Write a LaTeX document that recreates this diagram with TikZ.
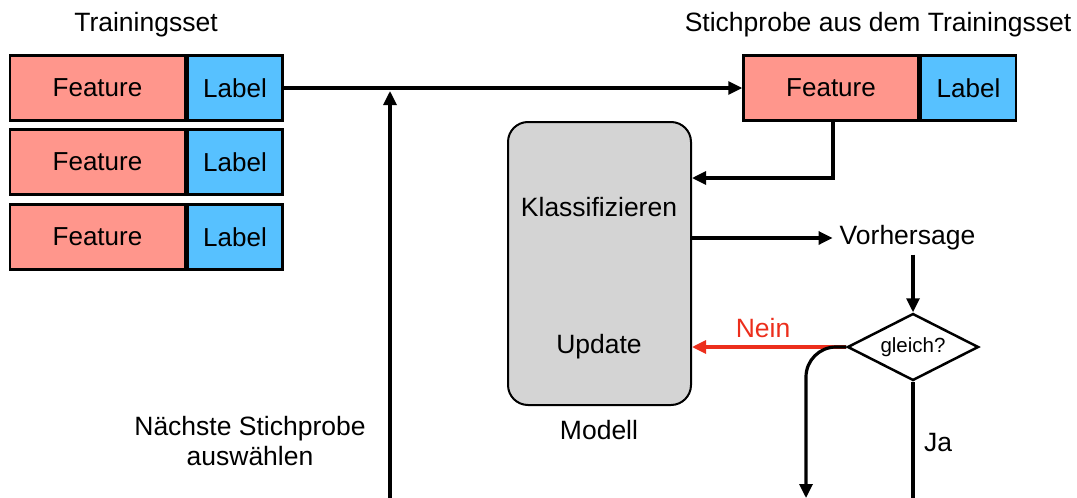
\documentclass[tikz,border=0pt]{standalone}
\usepackage{fontspec}
\setmainfont{Liberation Sans}
\usetikzlibrary{shapes.geometric,arrows.meta,calc}

\definecolor{featfill}{RGB}{255,150,140}
\definecolor{labfill}{RGB}{87,193,255}
\definecolor{modfill}{RGB}{212,212,212}
\definecolor{neinred}{RGB}{236,46,28}

\tikzset{
  txt/.style={font=\fontsize{26.5}{31}\selectfont, inner sep=0pt},
  small/.style={font=\fontsize{20.5}{24}\selectfont, inner sep=0pt},
  featbox/.style={draw, line width=2.5pt, fill=featfill, minimum width=175pt,
    minimum height=65pt, inner sep=0pt, font=\fontsize{26}{30}\selectfont},
  labbox/.style={draw, line width=2.5pt, fill=labfill, minimum width=95pt,
    minimum height=65pt, inner sep=0pt, font=\fontsize{26}{30}\selectfont},
  conn/.style={line width=3.2pt, -{Triangle[length=14pt,width=13pt]}},
  plain/.style={line width=3.2pt},
}

\begin{document}
\begin{tikzpicture}[x=1pt,y=-1pt]
\useasboundingbox (0,0) rectangle (1077,498);

% training set
\node[txt] (tstitle) at (146,25) {Trainingsset};
\node[featbox] (f1) at (97.5,88) {Feature};
\node[labbox, anchor=west] (l1) at (f1.east) {Label};
\node[featbox] (f2) at (97.5,162) {Feature};
\node[labbox, anchor=west] (l2) at (f2.east) {Label};
\node[featbox] (f3) at (97.5,237) {Feature};
\node[labbox, anchor=west] (l3) at (f3.east) {Label};

% sample
\node[txt] (sptitle) at (878,25) {Stichprobe aus dem Trainingsset};
\node[featbox] (sf) at (831,88) {Feature};
\node[labbox, anchor=west] (sl) at (sf.east) {Label};

% model
\node[draw, line width=2pt, fill=modfill, rounded corners=20pt,
      minimum width=183pt, minimum height=283pt] (model) at (599.5,263.5) {};
\node[txt] (klass) at (599,207) {Klassifizieren};
\node[txt] (upd) at (599,347) {Update};
\node[txt] (modell) at (599,430) {Modell};

% prediction and comparison
\node[txt, inner xsep=7pt, inner ysep=4pt] (vor) at (907.5,238) {Vorhersage};
\node[draw, line width=2.5pt, diamond, aspect=1.95, minimum width=131pt,
      minimum height=67pt, inner sep=0pt, small] (gl) at (913,347) {gleich?};

\node[txt, text=neinred] (nein) at (763,328) {Nein};
\node[txt] (ja) at (938,443) {Ja};
\node[txt, align=center] (next) at (250,441) {Nächste Stichprobe\\[-1pt]auswählen};

% free ends at the lower border
\coordinate (upstart) at (390,498);
\coordinate (leftend) at (806,498);
\coordinate (jaend) at (913,498);
\coordinate (junction) at (390,88);

% connectors
\draw[conn] (l1.east) -- (sf.west);
\draw[conn] (upstart) -- ($(junction)+(0,3)$);
\draw[conn] (sf.south -| 833,0) |- (model.east |- 0,178);
\draw[conn] (model.east |- vor.west) -- (vor.west);
\draw[conn] (vor.south -| gl.north) -- (gl.north);
\draw[conn, neinred] (gl.west) -- (model.east |- gl.west);
\draw[conn, rounded corners=30pt] (gl.west) -| (leftend);
\draw[plain] (gl.south) -- (jaend);
\end{tikzpicture}
\end{document}
